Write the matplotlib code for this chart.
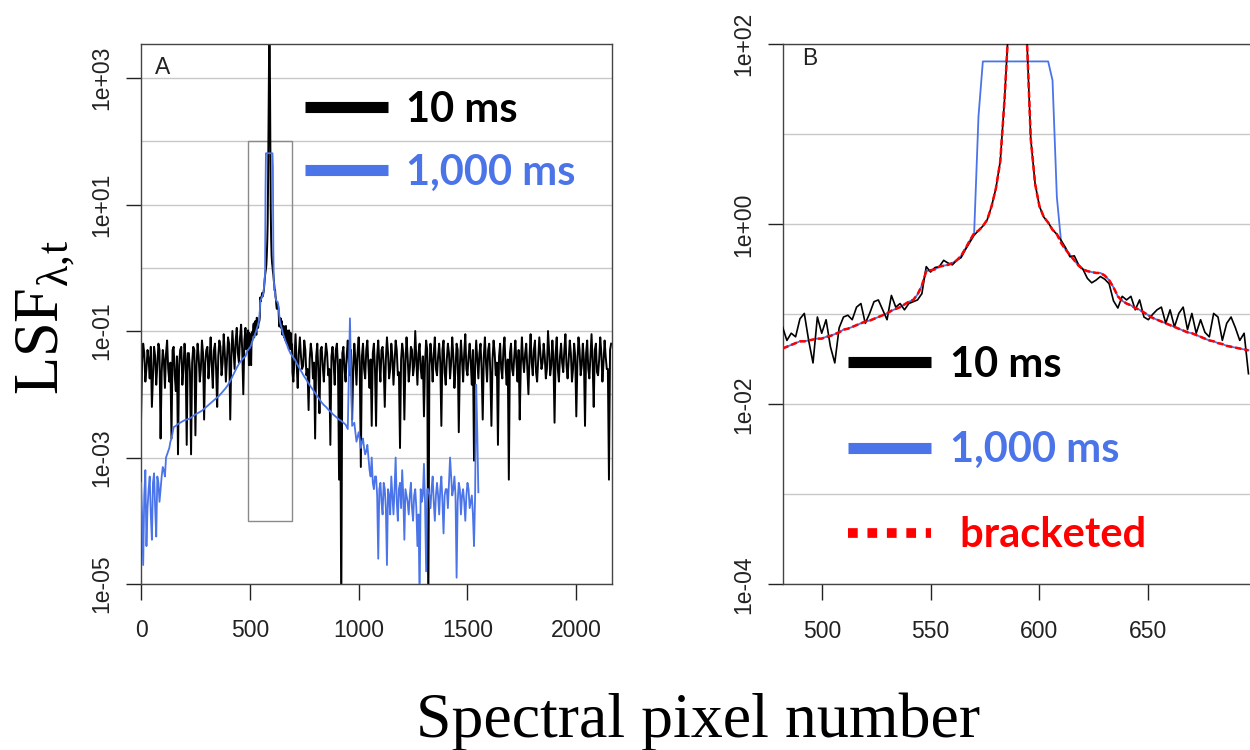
import numpy as np
import matplotlib.pyplot as plt
from matplotlib.lines import Line2D
from matplotlib.patches import Rectangle
from matplotlib.ticker import FixedLocator, NullFormatter

plt.rcParams['font.family'] = ['Liberation Sans', 'DejaVu Sans']
plt.rcParams['mathtext.fontset'] = 'custom'
plt.rcParams['mathtext.rm'] = 'Liberation Serif'

BLUE = '#4a74e8'

# log10(LSF)
# 10 ms, pixels 0..480 every 10
black_left = [-2.45, -1.20, -1.80, -1.30, -1.75, -2.20, -1.25, -1.85, -1.20, -2.70,
              -1.30, -1.90, -1.15, -1.80, -2.70, -1.25, -1.95, -2.95, -1.30, -1.85,
              -1.20, -2.80, -1.35, -2.95, -1.25, -2.65, -1.20, -1.80, -1.15, -2.40,
              -1.30, -1.75, -1.10, -1.90, -1.20, -2.20, -1.15, -1.70, -1.05, -1.80,
              -1.10, -2.40, -1.00, -1.60, -0.95, -1.50, -0.90, -2.00, -0.95]
# 10 ms, pixels 5..475 every 10 (in between the above)
black_left_mid = [-1.50, -1.35, -1.60, -1.45, -1.25, -1.70, -1.40, -1.55, -1.30, -1.65,
                  -1.45, -1.35, -1.60, -1.50, -1.30, -1.70, -1.40, -1.55, -1.25, -1.60,
                  -1.45, -1.35, -1.65, -1.50, -1.30, -1.55, -1.40, -1.60, -1.35, -1.50,
                  -1.25, -1.45, -1.55, -1.30, -1.60, -1.40, -1.25, -1.50, -1.35, -1.45,
                  -1.20, -1.40, -1.30, -1.15, -1.35, -1.10, -1.30, -1.15]
# 10 ms, pixels 482..696 every 2 (zoom window)
black_zoom = [-1.14, -1.29, -1.21, -1.25, -1.05, -0.99, -1.29, -1.54, -1.03, -1.21,
              -1.06, -1.36, -1.54, -1.15, -1.03, -1.01, -1.06, -0.92, -0.88, -1.10,
              -0.99, -0.86, -0.84, -0.95, -1.06, -0.79, -0.92, -0.88, -0.95, -0.88,
              -0.86, -0.84, -0.77, -0.47, -0.53, -0.48, -0.47, -0.40, -0.43, -0.45,
              -0.40, -0.37, -0.28, -0.20, -0.12, -0.07, -0.02, 0.05, 0.20, 0.40,
              0.70, 1.40, 2.30, 3.20, 3.65, 3.30, 2.20, 0.95, 0.45, 0.20,
              0.08, 0.02, -0.06, -0.11, -0.18, -0.26, -0.36, -0.35, -0.45, -0.50,
              -0.60, -0.65, -0.62, -0.58, -0.61, -0.66, -0.85, -0.93, -0.80, -0.84,
              -0.80, -0.95, -0.84, -1.03, -1.06, -1.00, -0.95, -0.92, -1.10, -0.95,
              -1.14, -0.99, -0.92, -1.17, -0.99, -1.21, -1.06, -1.20, -1.25, -0.99,
              -1.03, -1.29, -1.10, -1.03, -1.15, -1.29, -1.21, -1.66]
# 10 ms, pixels 700..2160 every 10
black_right = [-1.80, -1.05, -1.90, -1.10, -1.60, -1.15, -1.70, -2.25, -1.20, -1.75,
               -2.70, -1.20, -2.30, -1.25, -1.80, -1.20, -1.70, -2.80, -1.25, -1.85,
               -1.20, -3.35, -5.50, -1.25, -1.80, -1.15, -1.70, -2.40, -1.20, -1.85,
               -1.10, -3.15, -1.20, -1.75, -1.15, -1.90, -2.50, -1.20, -2.50, -1.15,
               -1.80, -1.25, -2.20, -1.10, -1.75, -1.20, -1.85, -1.15, -1.70, -2.85,
               -1.20, -2.40, -1.10, -1.80, -1.25, -1.70, -1.00, -1.85, -1.20, -1.75,
               -2.35, -1.15, -5.50, -1.20, -1.80, -1.10, -1.70, -1.20, -2.50, -1.15,
               -1.85, -1.20, -1.75, -1.10, -1.90, -1.20, -2.60, -1.15, -1.80, -1.05,
               -1.70, -1.20, -1.85, -3.05, -1.15, -1.75, -1.20, -2.40, -1.10, -1.80,
               -1.20, -2.50, -1.15, -1.70, -2.80, -1.20, -1.75, -1.10, -1.85, -3.35,
               -1.20, -1.70, -1.15, -1.80, -2.40, -1.10, -1.65, -1.20, -2.00, -1.05,
               -1.70, -1.15, -1.80, -1.10, -1.60, -1.20, -1.75, -1.00, -1.70, -1.15,
               -2.45, -1.10, -1.80, -1.20, -1.65, -1.05, -1.75, -1.15, -1.80, -1.20,
               -2.35, -1.10, -1.70, -1.20, -2.50, -1.15, -1.75, -1.05, -2.20, -1.20,
               -1.70, -1.10, -1.80, -1.15, -1.60, -3.35, -1.20]
# 10 ms, pixels 705..2155 every 10 (in between)
black_right_mid = [-1.45, -1.50, -1.35, -1.40, -1.55, -1.30, -1.60, -1.45, -1.35, -1.50,
                   -1.40, -1.65, -1.30, -1.55, -1.45, -1.35, -1.60, -1.40, -1.50, -1.30,
                   -1.55, -1.45, -1.35, -1.60, -1.40, -1.50, -1.30, -1.65, -1.45, -1.35,
                   -1.50, -1.40, -1.60, -1.30, -1.55, -1.45, -1.35, -1.60, -1.40, -1.50,
                   -1.30, -1.55, -1.45, -1.35, -1.60, -1.40, -1.50, -1.30, -1.65, -1.45,
                   -1.35, -1.50, -1.40, -1.60, -1.30, -1.55, -1.45, -1.35, -1.60, -1.40,
                   -1.50, -1.30, -1.55, -1.45, -1.35, -1.60, -1.40, -1.50, -1.30, -1.65,
                   -1.45, -1.35, -1.50, -1.40, -1.60, -1.30, -1.55, -1.45, -1.35, -1.60,
                   -1.40, -1.50, -1.30, -1.55, -1.45, -1.35, -1.60, -1.40, -1.50, -1.30,
                   -1.65, -1.45, -1.35, -1.50, -1.40, -1.60, -1.30, -1.55, -1.45, -1.35,
                   -1.60, -1.40, -1.50, -1.30, -1.55, -1.45, -1.35, -1.60, -1.40, -1.50,
                   -1.30, -1.65, -1.45, -1.35, -1.50, -1.40, -1.60, -1.30, -1.55, -1.45,
                   -1.35, -1.60, -1.40, -1.50, -1.30, -1.55, -1.45, -1.35, -1.60, -1.40,
                   -1.50, -1.30, -1.55, -1.45, -1.35, -1.60, -1.40, -1.50, -1.30, -1.65,
                   -1.45, -1.35, -1.50, -1.40, -1.60, -1.30]

# 1,000 ms, pixels 0..480 every 10
blue_left = [-3.40, -4.70, -3.20, -3.80, -3.30, -4.30, -3.25, -4.25, -3.40, -3.50,
             -3.15, -3.30, -2.95, -2.85, -2.70, -2.52, -2.50, -2.47, -2.45, -2.43,
             -2.41, -2.40, -2.39, -2.37, -2.34, -2.32, -2.30, -2.28, -2.26, -2.23,
             -2.20, -2.17, -2.14, -2.11, -2.08, -2.05, -2.02, -1.98, -1.94, -1.90,
             -1.85, -1.79, -1.72, -1.65, -1.58, -1.52, -1.47, -1.43, -1.40]
# 1,000 ms, pixels 5..135 every 10 (noisy start)
blue_left_mid = [-3.90, -3.60, -4.40, -3.50, -3.90, -3.40, -3.80, -3.30, -3.70, -3.30,
                 -3.20, -3.00, -2.90, -2.75]
# 1,000 ms, pixels 482..696 every 2
blue_zoom = [-1.38, -1.36, -1.34, -1.32, -1.30, -1.30, -1.29, -1.28, -1.27, -1.27,
             -1.25, -1.24, -1.22, -1.20, -1.17, -1.16, -1.14, -1.12, -1.10, -1.08,
             -1.07, -1.05, -1.03, -1.01, -0.99, -0.96, -0.94, -0.92, -0.89, -0.86,
             -0.84, -0.78, -0.68, -0.52, -0.51, -0.50, -0.47, -0.46, -0.45, -0.43,
             -0.40, -0.35, -0.27, -0.18, -0.10, 1.20, 1.81, 1.81, 1.81, 1.81,
             1.81, 1.81, 1.81, 1.81, 1.81, 1.81, 1.81, 1.81, 1.81, 1.81,
             1.81, 1.81, 1.60, 0.30, -0.21, -0.28, -0.34, -0.40, -0.46, -0.50,
             -0.52, -0.53, -0.54, -0.54, -0.57, -0.62, -0.70, -0.80, -0.85, -0.88,
             -0.90, -0.93, -0.95, -0.98, -1.01, -1.04, -1.06, -1.08, -1.10, -1.12,
             -1.14, -1.16, -1.18, -1.20, -1.21, -1.23, -1.25, -1.27, -1.29, -1.30,
             -1.32, -1.33, -1.35, -1.36, -1.37, -1.38, -1.39, -1.40]
# 1,000 ms, pixels 700..1550 every 10
blue_right = [-1.42, -1.47, -1.54, -1.60, -1.66, -1.72, -1.77, -1.83, -1.88, -1.93,
              -1.98, -2.03, -2.08, -2.13, -2.17, -2.20, -2.24, -2.27, -2.31, -2.34,
              -2.37, -2.40, -2.42, -2.45, -2.48, -2.55, -0.80, -2.50, -2.45, -2.75,
              -2.60, -2.85, -2.70, -2.95, -2.80, -3.20, -3.00, -3.50, -3.30, -4.60,
              -3.40, -3.90, -3.50, -4.70, -3.60, -3.30, -3.90, -3.00, -4.00, -3.40,
              -3.20, -4.30, -3.60, -3.90, -3.40, -4.00, -3.50, -4.40, -5.30, -3.70,
              -3.10, -4.80, -3.50, -3.80, -3.30, -4.00, -3.40, -3.90, -3.30, -4.20,
              -3.50, -3.80, -3.00, -3.60, -3.30, -4.90, -3.40, -3.90, -3.50, -4.00,
              -3.40, -3.80, -3.60, -4.40, -1.85, -3.55]
# 1,000 ms, pixels 1005..1545 every 10 (noisy tail)
blue_right_mid = [-2.70, -2.75, -2.85, -2.90, -3.00, -3.30, -3.40, -3.30, -3.60, -3.50,
                  -3.70, -3.40, -3.80, -3.50, -3.90, -3.60, -3.50, -3.70, -3.50, -3.80,
                  -3.60, -3.50, -3.70, -3.60, -3.80, -3.60, -3.80, -3.90, -3.50, -3.60,
                  -3.70, -3.50, -3.60, -3.50, -3.70, -3.60, -3.60, -3.50, -3.70, -3.60,
                  -3.50, -3.40, -3.30, -3.50, -3.60, -3.70, -3.50, -3.60, -3.70, -3.60,
                  -3.50, -3.70, -3.90, -3.60, -2.60]

# bracketed = 10 ms core spliced onto 1,000 ms wings
bracket_lo, bracket_hi = 572, 608
zoom_box = (490, 693, 1e-4, 1e2)


def grid_x(start, step, values):
    return start + step * np.arange(len(values))


def merge(parts):
    x = np.concatenate([grid_x(*p[:2], p[2]) for p in parts])
    y = np.concatenate([p[2] for p in parts])
    order = np.argsort(x, kind='stable')
    return x[order], 10 ** y[order]


x_black, y_black = merge([(0, 10, black_left), (5, 10, black_left_mid),
                          (482, 2, black_zoom), (700, 10, black_right),
                          (705, 10, black_right_mid)])
x_blue, y_blue = merge([(0, 10, blue_left), (5, 10, blue_left_mid),
                        (482, 2, blue_zoom), (700, 10, blue_right),
                        (1005, 10, blue_right_mid)])

x_zoom = grid_x(482, 2, black_zoom)
core = (x_zoom >= bracket_lo) & (x_zoom <= bracket_hi)
y_bracket = 10 ** np.where(core, black_zoom, blue_zoom)

fig = plt.figure(figsize=(12.5, 7.5), dpi=100)
ax_a = fig.add_axes([0.1128, 0.2213, 0.3768, 0.72])
ax_b = fig.add_axes([0.6262, 0.2209, 0.3738, 0.72])


def style(ax, major, minor, labels):
    ax.set_yscale('log')
    ax.yaxis.set_major_locator(FixedLocator(major))
    ax.yaxis.set_minor_locator(FixedLocator(minor))
    ax.yaxis.set_minor_formatter(NullFormatter())
    ax.set_yticklabels(labels)
    ax.set_axisbelow(True)
    ax.grid(True, which='both', axis='y', color='#c8c8c8', lw=1.0)
    ax.tick_params(which='minor', length=0)
    ax.tick_params(axis='y', which='major', length=10.5, width=1, pad=9.5,
                   labelsize=16.5, colors='#222')
    ax.tick_params(axis='x', length=11.5, width=1, pad=14, labelsize=16.5, colors='#222')
    for lab in ax.get_yticklabels():
        lab.set_rotation(90)
        lab.set_va('center')
    for s in ax.spines.values():
        s.set_color('#444')
        s.set_linewidth(1.0)


def handle(color, lw, ls='-'):
    return Line2D([], [], color=color, lw=lw, linestyle=ls,
                  solid_capstyle='butt', dash_capstyle='butt')


# panel A
ax_a.plot(x_black, y_black, color='black', lw=1.4, zorder=2)
ax_a.plot(x_blue, y_blue, color=BLUE, lw=1.3, zorder=3)
ax_a.add_patch(Rectangle((zoom_box[0], zoom_box[2]), zoom_box[1] - zoom_box[0],
                         zoom_box[3] - zoom_box[2], fill=False, ec='#8a8a8a', lw=1.0, zorder=1.5))
ax_a.set_xlim(0, 2164)
ax_a.set_ylim(1e-5, 3444)
ax_a.set_xticks([0, 500, 1000, 1500, 2000])
style(ax_a, [1e-5, 1e-3, 1e-1, 1e1, 1e3], [1e-2, 1e0, 1e2],
      ['1e-05', '1e-03', '1e-01', '1e+01', '1e+03'])
ax_a.text(0.045, 0.956, 'A', transform=ax_a.transAxes, ha='center', va='center',
          fontsize=16.5, color='#222')

leg_font = dict(family='Lato', weight='bold', size=30)
leg_a = ax_a.legend([handle('black', 8), handle(BLUE, 8)],
                    ['10 ms', '1,000 ms'], loc='upper left', bbox_to_anchor=(0.348, 0.913),
                    frameon=False, prop=leg_font, handlelength=2.0, handletextpad=0.43,
                    labelspacing=0.59, borderpad=0, borderaxespad=0)
for t, c in zip(leg_a.get_texts(), ['black', BLUE]):
    t.set_color(c)

# panel B
ax_b.plot(x_zoom, 10 ** np.array(blue_zoom), color=BLUE, lw=1.3, zorder=2)
ax_b.plot(x_zoom, 10 ** np.array(black_zoom), color='black', lw=1.2, zorder=3)
ax_b.plot(x_zoom, y_bracket, color='red', lw=1.8, dashes=(2.5, 1.2), zorder=4)
ax_b.set_xlim(482.1, 696.7)
ax_b.set_ylim(1e-4, 1e2)
ax_b.set_xticks([500, 550, 600, 650])
style(ax_b, [1e-4, 1e-2, 1e0, 1e2], [1e-3, 1e-1, 1e1],
      ['1e-04', '1e-02', '1e+00', '1e+02'])
ax_b.spines['right'].set_visible(False)
ax_b.text(0.058, 0.973, 'B', transform=ax_b.transAxes, ha='center', va='center',
          fontsize=16.5, color='#222')

leg_b = ax_b.legend([handle('black', 8), handle(BLUE, 8), handle('red', 7, (0, (1, 1)))],
                    ['10 ms', '1,000 ms', ' bracketed'], loc='upper left',
                    bbox_to_anchor=(0.140, 0.4413), frameon=False, prop=leg_font,
                    handlelength=2.0, handletextpad=0.45, labelspacing=1.13,
                    borderpad=0, borderaxespad=0)
for t, c in zip(leg_b.get_texts(), ['black', BLUE, 'red']):
    t.set_color(c)

fig.text(0.037, 0.577, r'LSF$_{\mathrm{λ,\!t}}$', rotation=90, ha='center', va='center',
         fontsize=45, family='Liberation Serif')
fig.text(0.5584, 0.017, 'Spectral pixel number', ha='center', va='baseline',
         fontsize=46, family='Liberation Serif')

fig.savefig('out.png', dpi=100)
